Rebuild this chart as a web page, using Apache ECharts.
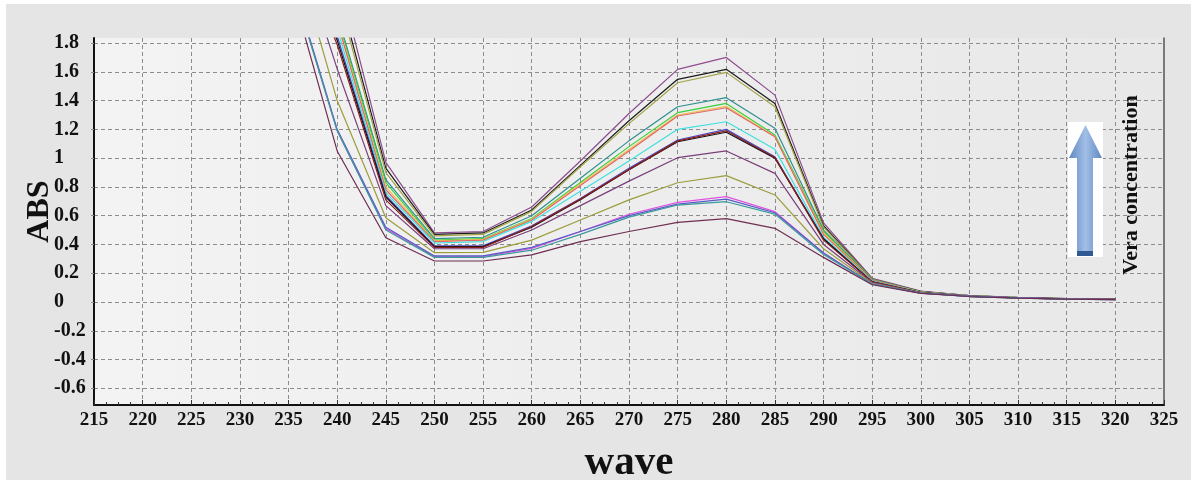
<!DOCTYPE html>
<html>
<head>
<meta charset="utf-8">
<script src="https://cdn.jsdelivr.net/npm/echarts@6/dist/echarts.min.js"></script>
<style>
  html, body { margin: 0; padding: 0; background: #fff; }
  #chart { position: absolute; left: 6px; top: 4px; width: 1185px; height: 476px; }
</style>
</head>
<body>
<div id="chart"></div>
<script>
// wavelength (nm)
const waves = [235, 240, 245, 250, 255, 260, 265, 270, 275, 280, 285, 290, 295, 300, 305, 310, 315, 320]

// absorbance curves, highest concentration first
const absPurple  = [3.20, 2.30, 0.97, 0.480, 0.490, 0.660, 0.98, 1.31, 1.617, 1.700, 1.438, 0.55, 0.165, 0.075, 0.045, 0.032, 0.024, 0.020]
const absBlack   = [3.00, 2.20, 0.93, 0.470, 0.480, 0.640, 0.95, 1.26, 1.548, 1.617, 1.380, 0.53, 0.160, 0.072, 0.044, 0.031, 0.023, 0.020]
const absOlive   = [2.90, 2.15, 0.90, 0.460, 0.470, 0.630, 0.94, 1.24, 1.524, 1.596, 1.357, 0.52, 0.160, 0.071, 0.043, 0.031, 0.023, 0.020]
const absTeal    = [2.80, 2.00, 0.85, 0.440, 0.450, 0.600, 0.86, 1.12, 1.357, 1.420, 1.207, 0.50, 0.155, 0.070, 0.043, 0.030, 0.022, 0.019]
const absGreen   = [2.80, 1.98, 0.83, 0.430, 0.440, 0.580, 0.83, 1.08, 1.316, 1.380, 1.160, 0.49, 0.150, 0.070, 0.042, 0.030, 0.022, 0.019]
const absYellow  = [2.75, 1.96, 0.80, 0.425, 0.435, 0.575, 0.82, 1.06, 1.300, 1.360, 1.150, 0.48, 0.150, 0.069, 0.042, 0.030, 0.022, 0.019]
const absRed     = [2.75, 1.95, 0.78, 0.420, 0.430, 0.570, 0.81, 1.05, 1.293, 1.350, 1.149, 0.47, 0.150, 0.068, 0.042, 0.030, 0.022, 0.019]
const absCyan    = [2.70, 1.90, 0.76, 0.410, 0.420, 0.560, 0.77, 0.98, 1.200, 1.253, 1.061, 0.45, 0.145, 0.067, 0.041, 0.030, 0.022, 0.019]
const absBlue    = [2.65, 1.85, 0.74, 0.390, 0.390, 0.530, 0.72, 0.93, 1.126, 1.200, 1.010, 0.44, 0.140, 0.066, 0.041, 0.029, 0.021, 0.018]
const absBlack2  = [2.60, 1.82, 0.73, 0.385, 0.385, 0.520, 0.71, 0.92, 1.114, 1.180, 1.000, 0.44, 0.140, 0.066, 0.041, 0.029, 0.021, 0.018]
const absDarkRed = [2.60, 1.79, 0.71, 0.380, 0.380, 0.525, 0.715, 0.92, 1.120, 1.190, 1.005, 0.43, 0.140, 0.066, 0.040, 0.029, 0.021, 0.018]
const absViolet  = [2.67, 1.62, 0.67, 0.370, 0.370, 0.500, 0.67, 0.84, 1.003, 1.050, 0.894, 0.40, 0.135, 0.064, 0.040, 0.028, 0.021, 0.018]
const absOlive2  = [2.58, 1.40, 0.586, 0.343, 0.345, 0.430, 0.57, 0.71, 0.829, 0.878, 0.744, 0.37, 0.130, 0.063, 0.039, 0.028, 0.020, 0.018]
const absMagenta = [2.31, 1.19, 0.51, 0.315, 0.315, 0.373, 0.49, 0.61, 0.693, 0.732, 0.628, 0.34, 0.125, 0.062, 0.039, 0.028, 0.020, 0.017]
const absSlate   = [2.32, 1.20, 0.52, 0.320, 0.320, 0.380, 0.49, 0.60, 0.680, 0.715, 0.620, 0.34, 0.125, 0.062, 0.039, 0.028, 0.020, 0.017]
const absTeal2   = [2.30, 1.19, 0.50, 0.310, 0.310, 0.360, 0.47, 0.59, 0.674, 0.697, 0.611, 0.33, 0.125, 0.061, 0.038, 0.027, 0.020, 0.017]
const absMaroon  = [2.25, 1.05, 0.447, 0.285, 0.285, 0.327, 0.42, 0.49, 0.554, 0.580, 0.512, 0.31, 0.120, 0.060, 0.038, 0.027, 0.020, 0.017]

const curves = [
  ['#8e4c8e', absPurple], ['#1a1a1a', absBlack], ['#a3a347', absOlive],
  ['#2f8f8f', absTeal], ['#3ccf3c', absGreen], ['#f0c050', absYellow],
  ['#e06868', absRed], ['#3fe0e0', absCyan], ['#4a4ac4', absBlue],
  ['#111111', absBlack2], ['#8b1c1c', absDarkRed], ['#7a3f7a', absViolet],
  ['#9c9c3c', absOlive2], ['#e052e0', absMagenta], ['#5a5ac8', absSlate],
  ['#3a9a9a', absTeal2], ['#6e2d52', absMaroon]
]

const serif = 'Liberation Serif'
const chart = echarts.init(document.getElementById('chart'))

chart.setOption({
  backgroundColor: '#e5e5e5',
  animation: false,
  grid: {
    left: 88, top: 34, right: 27, bottom: 75,
    outerBoundsMode: 'none', containLabel: false,
    show: true, borderWidth: 0,
    backgroundColor: new echarts.graphic.LinearGradient(0, 0, 1, 0, [
      { offset: 0, color: '#f3f3f3' },
      { offset: 1, color: '#e8e8e8' }
    ])
  },
  xAxis: {
    type: 'value', min: 215, max: 325, interval: 5,
    name: 'wave', nameLocation: 'middle', nameGap: 38, nameMoveOverlap: false,
    nameTextStyle: { fontFamily: serif, fontWeight: 'bold', fontSize: 41, color: '#111' },
    axisLine: { show: true, onZero: false, lineStyle: { color: '#111', width: 2 } },
    axisTick: { show: true, inside: true, length: 5, lineStyle: { color: '#333' } },
    minorTick: { show: true, splitNumber: 4, length: 3, lineStyle: { color: '#333' } },
    axisLabel: { fontFamily: serif, fontWeight: 'bold', fontSize: 19, color: '#111', margin: 6 },
    splitLine: { show: true, showMinLine: false, showMaxLine: false, lineStyle: { color: '#8c8c8c', type: [4, 3] } }
  },
  yAxis: [{
    type: 'value', min: -0.716, max: 1.835, splitNumber: 13,
    name: 'ABS', nameLocation: 'middle', nameGap: 38, nameRotate: 90, nameMoveOverlap: false,
    nameTextStyle: { fontFamily: serif, fontWeight: 'bold', fontSize: 32, color: '#111', padding: [0, 0, 0, 20] },
    axisLine: { show: true, onZero: false, lineStyle: { color: '#111', width: 2 } },
    axisTick: { show: true, length: 4, lineStyle: { color: '#8c8c8c', type: [3, 2] } },
    axisLabel: { showMinLabel: false, showMaxLabel: false, align: 'left', margin: 40,
      fontFamily: serif, fontWeight: 'bold', fontSize: 20, color: '#111' },
    splitLine: { show: true, showMinLine: false, showMaxLine: false, lineStyle: { color: '#8c8c8c', type: [4, 3] } }
  }, {
    type: 'value', position: 'right', min: -0.716, max: 1.835,
    axisLine: { show: true, onZero: false, lineStyle: { color: '#555', width: 1.5 } },
    axisTick: { show: false }, axisLabel: { show: false }, splitLine: { show: false }
  }],
  series: curves.map(([color, vals]) => ({
    type: 'line',
    data: waves.map((w, i) => [w, vals[i]]),
    showSymbol: false,
    clip: true,
    lineStyle: { color: color, width: 1.2 }
  })),
  graphic: [
    // arrow on white card
    { type: 'rect', shape: { x: 1062, y: 118, width: 35, height: 135 }, style: { fill: '#ffffff' }, z: 10 },
    { type: 'polygon', z: 11,
      shape: { points: [[1079.5, 121], [1096, 154], [1087, 154], [1087, 251], [1071, 251], [1071, 154], [1063, 154]] },
      style: { fill: new echarts.graphic.LinearGradient(0, 0, 1, 0, [
        { offset: 0, color: '#5f88c4' }, { offset: 0.5, color: '#a2bfe6' }, { offset: 1, color: '#5f88c4' }
      ]) } },
    { type: 'rect', z: 12, shape: { x: 1071, y: 247, width: 16, height: 5 }, style: { fill: '#2f5a94' } },
    { type: 'text', z: 12, x: 1125, y: 181, rotation: Math.PI / 2,
      style: { text: 'Vera concentration', font: 'bold 22px "Liberation Serif"', fill: '#111', align: 'center', verticalAlign: 'middle' } }
  ]
})
</script>
</body>
</html>
